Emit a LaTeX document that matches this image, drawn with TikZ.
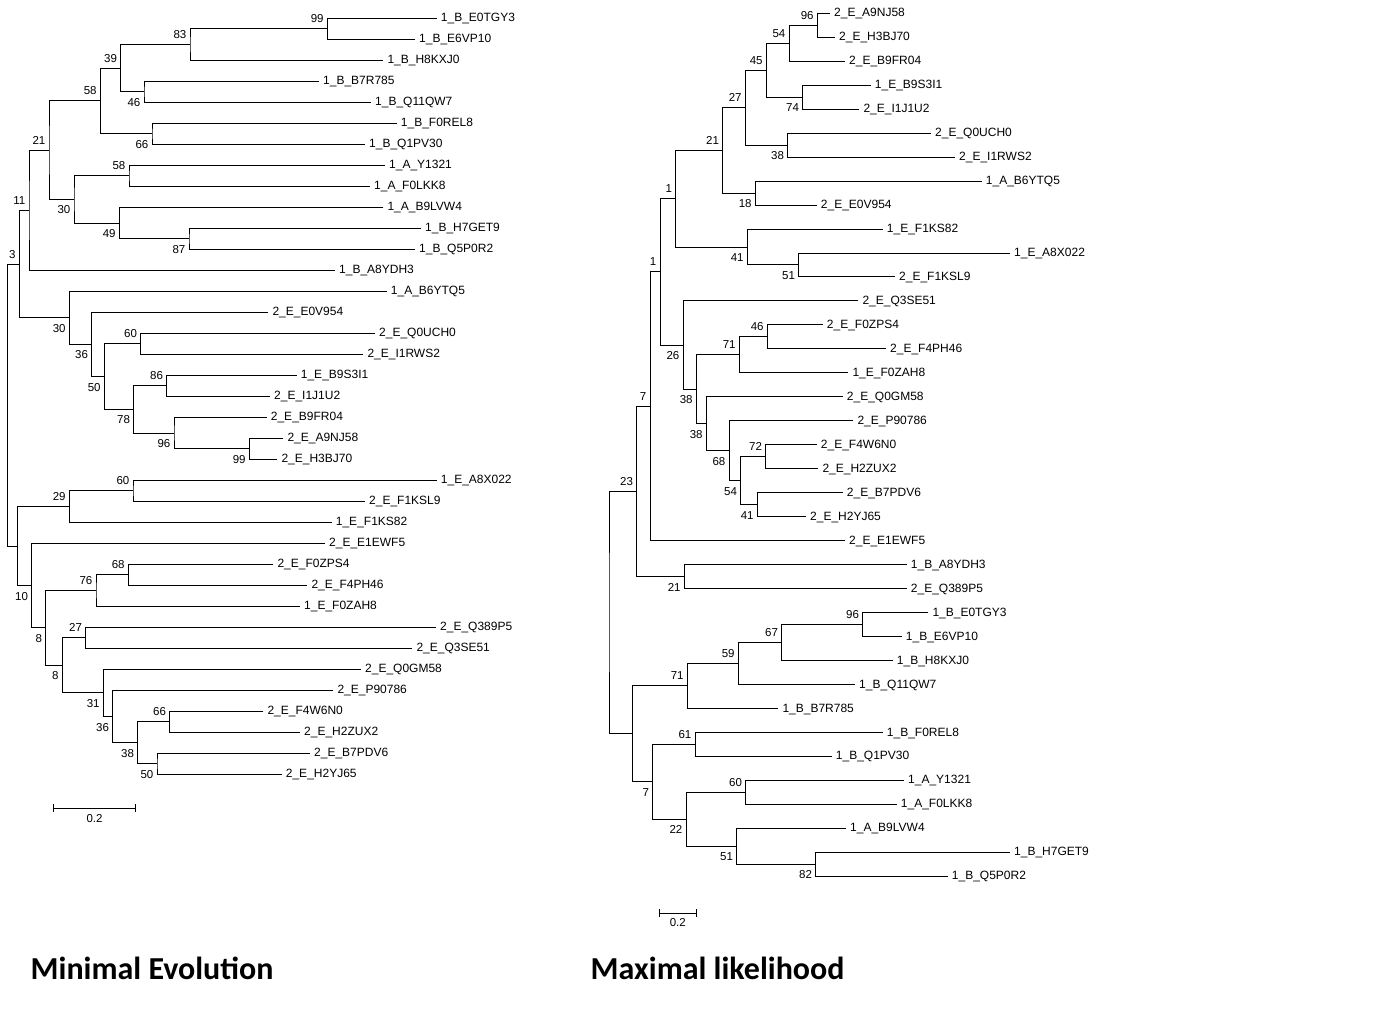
\documentclass[tikz,border=0pt]{standalone}
\usepackage{fontspec}
\setmainfont{Liberation Sans}
\newfontfamily\titlefont{Carlito}
\usetikzlibrary{calc}
\tikzset{
  branch/.style={line width=1pt, line join=miter, draw=black},
  leaflab/.style={font=\fontsize{12}{13}\selectfont, inner sep=0pt, anchor=base west, shift={(4,3.6)}},
  bslab/.style={font=\fontsize{11.5}{13}\selectfont, inner sep=0pt, anchor=base east},
  bsup/.style={bslab, shift={(-3.5,-6)}},
  bsdn/.style={bslab, shift={(-3.5,14.5)}},
  sbtext/.style={font=\fontsize{11.5}{13}\selectfont, inner sep=0pt, anchor=base},
  titletext/.style={font=\titlefont\bfseries\fontsize{32}{36}\selectfont, inner sep=0pt, anchor=base west},
}
\newcommand\mkleaf[4]{\coordinate (#1) at (#2,#3); \node[leaflab] (#1t) at (#1) {#4};}
\newcommand\mknode[3]{\coordinate (#1) at (#2,#3);}
\newcommand\edg[3]{\draw[branch] (#2) -| (#1) |- (#3);}
\newcommand\bup[2]{\node[bsup] (#1l) at (#1) {#2};}
\newcommand\bdn[2]{\node[bsdn] (#1l) at (#1) {#2};}
\begin{document}
\begin{tikzpicture}[x=1pt,y=-1pt]
\useasboundingbox[fill=white] (0,0) rectangle (1388,1012);
% ================= LEFT TREE (Minimal Evolution) =================
\mkleaf{L1}{436.7}{18.3}{1\_B\_E0TGY3}
\mkleaf{L2}{415}{39.3}{1\_B\_E6VP10}
\mkleaf{L3}{383.3}{60.3}{1\_B\_H8KXJ0}
\mkleaf{L4}{319}{81.3}{1\_B\_B7R785}
\mkleaf{L5}{371}{102.3}{1\_B\_Q11QW7}
\mkleaf{L6}{396.7}{123.3}{1\_B\_F0REL8}
\mkleaf{L7}{365}{144.3}{1\_B\_Q1PV30}
\mkleaf{L8}{385}{165.3}{1\_A\_Y1321}
\mkleaf{L9}{370}{186.3}{1\_A\_F0LKK8}
\mkleaf{L10}{383.3}{207.3}{1\_A\_B9LVW4}
\mkleaf{L11}{421}{228.3}{1\_B\_H7GET9}
\mkleaf{L12}{415}{249.3}{1\_B\_Q5P0R2}
\mkleaf{L13}{335}{270.3}{1\_B\_A8YDH3}
\mkleaf{L14}{386.7}{291.3}{1\_A\_B6YTQ5}
\mkleaf{L15}{268.3}{312.3}{2\_E\_E0V954}
\mkleaf{L16}{375}{333.3}{2\_E\_Q0UCH0}
\mkleaf{L17}{363.3}{354.3}{2\_E\_I1RWS2}
\mkleaf{L18}{296.7}{375.3}{1\_E\_B9S3I1}
\mkleaf{L19}{270}{396.3}{2\_E\_I1J1U2}
\mkleaf{L20}{266.7}{417.3}{2\_E\_B9FR04}
\mkleaf{L21}{283.3}{438.3}{2\_E\_A9NJ58}
\mkleaf{L22}{277.3}{459.3}{2\_E\_H3BJ70}
\mkleaf{L23}{436.7}{480.3}{1\_E\_A8X022}
\mkleaf{L24}{365}{501.3}{2\_E\_F1KSL9}
\mkleaf{L25}{331.7}{522.3}{1\_E\_F1KS82}
\mkleaf{L26}{325}{543.3}{2\_E\_E1EWF5}
\mkleaf{L27}{273.3}{564.3}{2\_E\_F0ZPS4}
\mkleaf{L28}{307.3}{585.3}{2\_E\_F4PH46}
\mkleaf{L29}{300}{606.3}{1\_E\_F0ZAH8}
\mkleaf{L30}{436}{627.3}{2\_E\_Q389P5}
\mkleaf{L31}{412.3}{648.3}{2\_E\_Q3SE51}
\mkleaf{L32}{361}{669.3}{2\_E\_Q0GM58}
\mkleaf{L33}{333.3}{690.3}{2\_E\_P90786}
\mkleaf{L34}{263.3}{711.3}{2\_E\_F4W6N0}
\mkleaf{L35}{300}{732.3}{2\_E\_H2ZUX2}
\mkleaf{L36}{310}{753.3}{2\_E\_B7PDV6}
\mkleaf{L37}{281.7}{774.3}{2\_E\_H2YJ65}
\mknode{Lroot}{7.3}{405.08}
\mknode{LN3}{19.3}{264.07}
\mknode{LN11}{29}{210.25}
\mknode{LN21}{49}{150.21}
\mknode{LN58a}{100.3}{100.99}
\mknode{LN39}{120.7}{68.18}
\mknode{LN83}{190}{44.55}
\mknode{LN99a}{327.3}{28.8}
\mknode{LN46}{144}{91.8}
\mknode{LN66a}{152}{133.8}
\mknode{LN30a}{74}{199.43}
\mknode{LN58b}{129}{175.8}
\mknode{LN49}{119.3}{223.05}
\mknode{LN87}{189}{238.8}
\mknode{LN30b}{69.3}{317.88}
\mknode{LN36}{91.7}{344.46}
\mknode{LN50}{104.3}{376.61}
\mknode{LN60a}{140.7}{343.8}
\mknode{LN78}{133.7}{409.43}
\mknode{LN86}{166.7}{385.8}
\mknode{LN96}{174}{433.05}
\mknode{LN99b}{249.3}{448.8}
\mknode{LNr2}{17.7}{546.09}
\mknode{LN29}{69.3}{506.55}
\mknode{LN60b}{133}{490.8}
\mknode{LN10}{31.7}{585.63}
\mknode{LN8a}{45.7}{627.96}
\mknode{LN76}{96}{590.55}
\mknode{LN68}{128.3}{574.8}
\mknode{LN8b}{62.3}{665.36}
\mknode{LN27}{85.7}{637.8}
\mknode{LN31}{103.3}{692.93}
\mknode{LN36b}{112.7}{716.55}
\mknode{LN38}{137.7}{742.8}
\mknode{LN66b}{169.7}{721.8}
\mknode{LN50b}{157}{763.8}
\edg{Lroot}{LN3}{LNr2}
\edg{LN3}{LN11}{LN30b}
\edg{LN11}{LN21}{L13}
\edg{LN21}{LN58a}{LN30a}
\edg{LN58a}{LN39}{LN66a}
\edg{LN39}{LN83}{LN46}
\edg{LN83}{LN99a}{L3}
\edg{LN99a}{L1}{L2}
\edg{LN46}{L4}{L5}
\edg{LN66a}{L6}{L7}
\edg{LN30a}{LN58b}{LN49}
\edg{LN58b}{L8}{L9}
\edg{LN49}{L10}{LN87}
\edg{LN87}{L11}{L12}
\edg{LN30b}{L14}{LN36}
\edg{LN36}{L15}{LN50}
\edg{LN50}{LN60a}{LN78}
\edg{LN60a}{L16}{L17}
\edg{LN78}{LN86}{LN96}
\edg{LN86}{L18}{L19}
\edg{LN96}{L20}{LN99b}
\edg{LN99b}{L21}{L22}
\edg{LNr2}{LN29}{LN10}
\edg{LN29}{LN60b}{L25}
\edg{LN60b}{L23}{L24}
\edg{LN10}{L26}{LN8a}
\edg{LN8a}{LN76}{LN8b}
\edg{LN76}{LN68}{L29}
\edg{LN68}{L27}{L28}
\edg{LN8b}{LN27}{LN31}
\edg{LN27}{L30}{L31}
\edg{LN31}{L32}{LN36b}
\edg{LN36b}{L33}{LN38}
\edg{LN38}{LN66b}{LN50b}
\edg{LN66b}{L34}{L35}
\edg{LN50b}{L36}{L37}
\bup{LN99a}{99}
\bup{LN83}{83}
\bdn{LN46}{46}
\bup{LN39}{39}
\bdn{LN66a}{66}
\bup{LN58a}{58}
\bup{LN58b}{58}
\bdn{LN87}{87}
\bdn{LN49}{49}
\bdn{LN30a}{30}
\bup{LN21}{21}
\bup{LN11}{11}
\bdn{LN30b}{30}
\bdn{LN36}{36}
\bdn{LN50}{50}
\bup{LN60a}{60}
\bdn{LN78}{78}
\bup{LN86}{86}
\bdn{LN96}{96}
\bdn{LN99b}{99}
\bup{LN3}{3}
\bup{LN29}{29}
\bup{LN60b}{60}
\bdn{LN10}{10}
\bdn{LN8a}{8}
\bup{LN76}{76}
\bup{LN68}{68}
\bdn{LN8b}{8}
\bup{LN27}{27}
\bdn{LN31}{31}
\bdn{LN36b}{36}
\bdn{LN38}{38}
\bup{LN66b}{66}
\bdn{LN50b}{50}
% scale bar left
\coordinate (sbL1) at (53.3,808.3);
\coordinate (sbL2) at (135.7,808.3);
\draw[branch] (sbL1) -- (sbL2);
\draw[branch] ($(sbL1)+(0,-4)$) -- ($(sbL1)+(0,4)$);
\draw[branch] ($(sbL2)+(0,-4)$) -- ($(sbL2)+(0,4)$);
\node[sbtext] (sbLt) at (94.5,822.3) {0.2};
% ================= RIGHT TREE (Maximal likelihood) =================
\mkleaf{R1}{830}{13.3}{2\_E\_A9NJ58}
\mkleaf{R2}{835}{37.27}{2\_E\_H3BJ70}
\mkleaf{R3}{845}{61.24}{2\_E\_B9FR04}
\mkleaf{R4}{870.7}{85.21}{1\_E\_B9S3I1}
\mkleaf{R5}{859.3}{109.18}{2\_E\_I1J1U2}
\mkleaf{R6}{931}{133.15}{2\_E\_Q0UCH0}
\mkleaf{R7}{955}{157.12}{2\_E\_I1RWS2}
\mkleaf{R8}{981.7}{181.09}{1\_A\_B6YTQ5}
\mkleaf{R9}{816.7}{205.06}{2\_E\_E0V954}
\mkleaf{R10}{882.7}{229.03}{1\_E\_F1KS82}
\mkleaf{R11}{1010}{253.0}{1\_E\_A8X022}
\mkleaf{R12}{895}{276.97}{2\_E\_F1KSL9}
\mkleaf{R13}{858.3}{300.94}{2\_E\_Q3SE51}
\mkleaf{R14}{822.7}{324.91}{2\_E\_F0ZPS4}
\mkleaf{R15}{886}{348.88}{2\_E\_F4PH46}
\mkleaf{R16}{848.3}{372.85}{1\_E\_F0ZAH8}
\mkleaf{R17}{842.7}{396.82}{2\_E\_Q0GM58}
\mkleaf{R18}{853.3}{420.79}{2\_E\_P90786}
\mkleaf{R19}{816.7}{444.76}{2\_E\_F4W6N0}
\mkleaf{R20}{818.3}{468.73}{2\_E\_H2ZUX2}
\mkleaf{R21}{842.7}{492.70}{2\_E\_B7PDV6}
\mkleaf{R22}{806}{516.67}{2\_E\_H2YJ65}
\mkleaf{R23}{845}{540.64}{2\_E\_E1EWF5}
\mkleaf{R24}{906.7}{564.61}{1\_B\_A8YDH3}
\mkleaf{R25}{906.7}{588.58}{2\_E\_Q389P5}
\mkleaf{R26}{928.3}{612.55}{1\_B\_E0TGY3}
\mkleaf{R27}{901.7}{636.52}{1\_B\_E6VP10}
\mkleaf{R28}{892.7}{660.49}{1\_B\_H8KXJ0}
\mkleaf{R29}{855}{684.46}{1\_B\_Q11QW7}
\mkleaf{R30}{778.3}{708.43}{1\_B\_B7R785}
\mkleaf{R31}{882.7}{732.40}{1\_B\_F0REL8}
\mkleaf{R32}{831.7}{756.37}{1\_B\_Q1PV30}
\mkleaf{R33}{904}{780.34}{1\_A\_Y1321}
\mkleaf{R34}{896.7}{804.31}{1\_A\_F0LKK8}
\mkleaf{R35}{846}{828.28}{1\_A\_B9LVW4}
\mkleaf{R36}{1010}{852.25}{1\_B\_H7GET9}
\mkleaf{R37}{947.7}{876.22}{1\_B\_Q5P0R2}
\mknode{Mroot}{609}{612.67}
\mknode{M23}{636.7}{491.44}
\mknode{M7}{650}{406.28}
\mknode{M1b}{660}{271.92}
\mknode{M1a}{675.7}{198.70}
\mknode{M21}{722.7}{150.38}
\mknode{M27}{745.3}{107.68}
\mknode{M45}{766.3}{70.23}
\mknode{M54}{789}{43.27}
\mknode{M96}{817.3}{25.29}
\mknode{M74}{802.7}{97.20}
\mknode{M38}{787.7}{145.14}
\mknode{M18}{755.3}{193.08}
\mknode{M41}{747.3}{247.01}
\mknode{M51}{798.7}{264.99}
\mknode{M26}{683}{345.13}
\mknode{M38a}{696.3}{389.33}
\mknode{M71}{739.3}{354.87}
\mknode{M46}{767.3}{336.90}
\mknode{M38b}{706.3}{423.79}
\mknode{M68}{729}{450.75}
\mknode{M54b}{740.7}{480.72}
\mknode{M72}{765.7}{456.75}
\mknode{M41b}{757.3}{504.69}
\mknode{M21b}{684.3}{576.60}
\mknode{Mlow}{632.3}{733.90}
\mknode{M71b}{687.3}{685.96}
\mknode{M59}{738.3}{663.49}
\mknode{M67}{781.7}{642.51}
\mknode{M96b}{862.7}{624.54}
\mknode{M7b}{652.7}{781.84}
\mknode{M61}{695}{744.39}
\mknode{M22}{686}{819.29}
\mknode{M60c}{745.7}{792.33}
\mknode{M51b}{736.7}{846.26}
\mknode{M82}{815.7}{864.24}
\edg{Mroot}{M23}{Mlow}
\edg{M23}{M7}{M21b}
\edg{M7}{M1b}{R23}
\edg{M1b}{M1a}{M26}
\edg{M1a}{M21}{M41}
\edg{M21}{M27}{M18}
\edg{M27}{M45}{M38}
\edg{M45}{M54}{M74}
\edg{M54}{M96}{R3}
\edg{M96}{R1}{R2}
\edg{M74}{R4}{R5}
\edg{M38}{R6}{R7}
\edg{M18}{R8}{R9}
\edg{M41}{R10}{M51}
\edg{M51}{R11}{R12}
\edg{M26}{R13}{M38a}
\edg{M38a}{M71}{M38b}
\edg{M71}{M46}{R16}
\edg{M46}{R14}{R15}
\edg{M38b}{R17}{M68}
\edg{M68}{R18}{M54b}
\edg{M54b}{M72}{M41b}
\edg{M72}{R19}{R20}
\edg{M41b}{R21}{R22}
\edg{M21b}{R24}{R25}
\edg{Mlow}{M71b}{M7b}
\edg{M71b}{M59}{R30}
\edg{M59}{M67}{R29}
\edg{M67}{M96b}{R28}
\edg{M96b}{R26}{R27}
\edg{M7b}{M61}{M22}
\edg{M61}{R31}{R32}
\edg{M22}{M60c}{M51b}
\edg{M60c}{R33}{R34}
\edg{M51b}{R35}{M82}
\edg{M82}{R36}{R37}
\bup{M96}{96}
\bup{M54}{54}
\bdn{M74}{74}
\bup{M45}{45}
\bdn{M38}{38}
\bup{M27}{27}
\bdn{M18}{18}
\bup{M21}{21}
\bdn{M41}{41}
\bdn{M51}{51}
\bup{M1a}{1}
\bdn{M26}{26}
\bdn{M38a}{38}
\bup{M71}{71}
\bup{M46}{46}
\bdn{M38b}{38}
\bdn{M68}{68}
\bdn{M54b}{54}
\bup{M72}{72}
\bdn{M41b}{41}
\bup{M1b}{1}
\bup{M7}{7}
\bdn{M21b}{21}
\bup{M23}{23}
\bup{M71b}{71}
\bup{M59}{59}
\bup{M67}{67}
\bup{M96b}{96}
\bdn{M7b}{7}
\bup{M61}{61}
\bdn{M22}{22}
\bup{M60c}{60}
\bdn{M51b}{51}
\bdn{M82}{82}
% scale bar right
\coordinate (sbR1) at (659.3,913.3);
\coordinate (sbR2) at (696.3,913.3);
\draw[branch] (sbR1) -- (sbR2);
\draw[branch] ($(sbR1)+(0,-4)$) -- ($(sbR1)+(0,4)$);
\draw[branch] ($(sbR2)+(0,-4)$) -- ($(sbR2)+(0,4)$);
\node[sbtext] (sbRt) at (677.8,926.7) {0.2};
% titles
\node[titletext] (t1) at (30.5,979.3) {Minimal Evolution};
\node[titletext] (t2) at (590.5,979.3) {Maximal likelihood};
\end{tikzpicture}
\end{document}
